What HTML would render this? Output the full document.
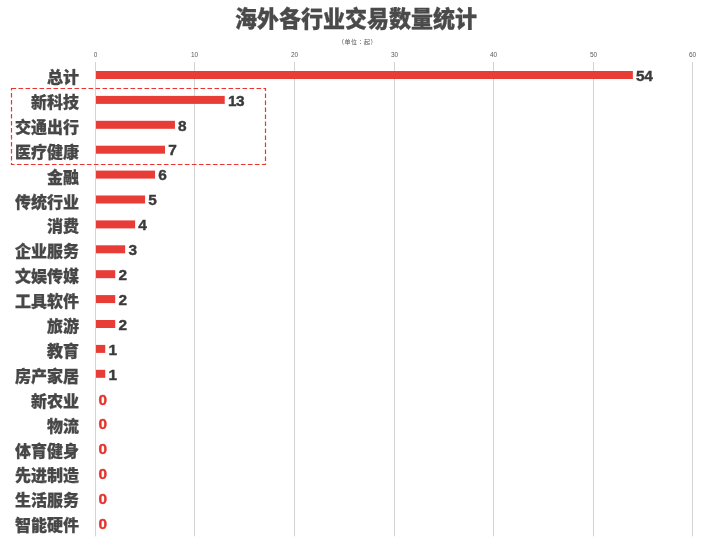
<!DOCTYPE html>
<html lang="zh"><head><meta charset="utf-8"><title>海外各行业交易数量统计</title>
<style>
html,body{margin:0;padding:0;background:#fff;}
#c{position:relative;width:717px;height:540px;overflow:hidden;background:#fff;font-family:"Liberation Sans","Noto Sans CJK SC",sans-serif;}
#c div{position:absolute;white-space:nowrap;}
svg{position:absolute;left:0;top:0;}
.t{left:0;width:712px;top:5px;text-align:center;font-size:22px;font-weight:900;color:#4a4a4a;line-height:30px;transform:scaleY(1.04);-webkit-text-stroke:.3px #4a4a4a;}
.u{left:327.6px;width:60px;top:37px;text-align:center;font-size:6px;color:#555;line-height:10px;letter-spacing:.5px;}
.u span{font-family:"Liberation Sans","Noto Sans CJK TC",sans-serif;}
.k{top:49.5px;width:30px;text-align:center;font-size:6.5px;color:#5a5a5a;line-height:10px;}
.l{left:0;width:79px;text-align:right;font-size:16px;font-weight:900;color:#474747;line-height:24px;height:24px;-webkit-text-stroke:.25px #474747;}
.v{font-size:15.4px;font-weight:bold;color:#3a3a3a;line-height:20px;height:20px;letter-spacing:-.5px;-webkit-text-stroke:.4px #3a3a3a;}
.z{color:#e5332d;-webkit-text-stroke-color:#e5332d;}
</style></head><body><div id="c">
<svg width="717" height="540" viewBox="0 0 717 540">
<rect x="95" y="62" width="1" height="474.3" fill="#d3d3d3"/>
<rect x="194" y="62" width="1" height="474.3" fill="#d3d3d3"/>
<rect x="294" y="62" width="1" height="474.3" fill="#d3d3d3"/>
<rect x="394" y="62" width="1" height="474.3" fill="#d3d3d3"/>
<rect x="493" y="62" width="1" height="474.3" fill="#d3d3d3"/>
<rect x="593" y="62" width="1" height="474.3" fill="#d3d3d3"/>
<rect x="692" y="62" width="1" height="474.3" fill="#d3d3d3"/>
<rect x="96" y="71.00" width="536.87" height="8" fill="#e83c37"/>
<rect x="96" y="95.90" width="128.71" height="8" fill="#e83c37"/>
<rect x="96" y="120.80" width="78.94" height="8" fill="#e83c37"/>
<rect x="96" y="145.70" width="68.99" height="8" fill="#e83c37"/>
<rect x="96" y="170.60" width="59.03" height="8" fill="#e83c37"/>
<rect x="96" y="195.50" width="49.07" height="8" fill="#e83c37"/>
<rect x="96" y="220.40" width="39.12" height="8" fill="#e83c37"/>
<rect x="96" y="245.30" width="29.16" height="8" fill="#e83c37"/>
<rect x="96" y="270.20" width="19.21" height="8" fill="#e83c37"/>
<rect x="96" y="295.10" width="19.21" height="8" fill="#e83c37"/>
<rect x="96" y="320.00" width="19.21" height="8" fill="#e83c37"/>
<rect x="96" y="344.90" width="9.25" height="8" fill="#e83c37"/>
<rect x="96" y="369.80" width="9.25" height="8" fill="#e83c37"/>
<rect x="11.5" y="88.5" width="254" height="76" fill="none" stroke="#e8352f" stroke-width="1.2" stroke-dasharray="4.6 2.4"/>
</svg>
<div class="t">海外各行业交易数量统计</div>
<div class="u">（单位<span lang="zh-TW">：</span>起）</div>
<div class="k" style="left:80.5px">0</div>
<div class="k" style="left:179.5px">10</div>
<div class="k" style="left:279.5px">20</div>
<div class="k" style="left:379.5px">30</div>
<div class="k" style="left:478.5px">40</div>
<div class="k" style="left:578.5px">50</div>
<div class="k" style="left:677.5px">60</div>
<div class="l" style="top:66px">总计</div>
<div class="v" style="top:66px;left:636.1px">54</div>
<div class="l" style="top:91px">新科技</div>
<div class="v" style="top:91px;left:227.9px">13</div>
<div class="l" style="top:116px">交通出行</div>
<div class="v" style="top:116px;left:178.1px">8</div>
<div class="l" style="top:141px">医疗健康</div>
<div class="v" style="top:140px;left:168.2px">7</div>
<div class="l" style="top:166px">金融</div>
<div class="v" style="top:165px;left:158.2px">6</div>
<div class="l" style="top:191px">传统行业</div>
<div class="v" style="top:190px;left:148.3px">5</div>
<div class="l" style="top:215px">消费</div>
<div class="v" style="top:215px;left:138.3px">4</div>
<div class="l" style="top:240px">企业服务</div>
<div class="v" style="top:240px;left:128.4px">3</div>
<div class="l" style="top:265px">文娱传媒</div>
<div class="v" style="top:265px;left:118.4px">2</div>
<div class="l" style="top:290px">工具软件</div>
<div class="v" style="top:290px;left:118.4px">2</div>
<div class="l" style="top:315px">旅游</div>
<div class="v" style="top:315px;left:118.4px">2</div>
<div class="l" style="top:340px">教育</div>
<div class="v" style="top:340px;left:108.5px">1</div>
<div class="l" style="top:365px">房产家居</div>
<div class="v" style="top:365px;left:108.5px">1</div>
<div class="l" style="top:390px">新农业</div>
<div class="v z" style="top:390px;left:98.5px">0</div>
<div class="l" style="top:415px">物流</div>
<div class="v z" style="top:414px;left:98.5px">0</div>
<div class="l" style="top:440px">体育健身</div>
<div class="v z" style="top:439px;left:98.5px">0</div>
<div class="l" style="top:464px">先进制造</div>
<div class="v z" style="top:464px;left:98.5px">0</div>
<div class="l" style="top:489px">生活服务</div>
<div class="v z" style="top:489px;left:98.5px">0</div>
<div class="l" style="top:514px">智能硬件</div>
<div class="v z" style="top:514px;left:98.5px">0</div>
</div></body></html>
